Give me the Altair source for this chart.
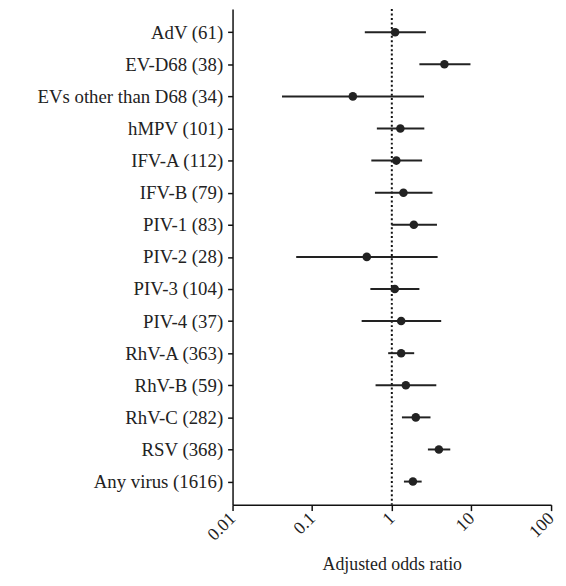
import altair as alt
import pandas as pd

labels = ["AdV (61)", "EV-D68 (38)", "EVs other than D68 (34)", "hMPV (101)",
          "IFV-A (112)", "IFV-B (79)", "PIV-1 (83)", "PIV-2 (28)", "PIV-3 (104)",
          "PIV-4 (37)", "RhV-A (363)", "RhV-B (59)", "RhV-C (282)", "RSV (368)",
          "Any virus (1616)"]
aor = [1.10, 4.58, 0.324, 1.28, 1.14, 1.40, 1.89, 0.485, 1.09, 1.31, 1.31, 1.50, 2.00, 3.90, 1.84]
lower = [0.458, 2.22, 0.0418, 0.649, 0.553, 0.614, 0.99, 0.063, 0.538, 0.418, 0.90, 0.625, 1.34, 2.84, 1.42]
upper = [2.68, 9.72, 2.54, 2.56, 2.40, 3.24, 3.69, 3.76, 2.22, 4.17, 1.91, 3.62, 3.06, 5.42, 2.37]
ticks = [0.01, 0.1, 1, 10, 100]

df = pd.DataFrame({"label": labels, "aor": aor, "lower": lower, "upper": upper})
ref = pd.DataFrame({"x": [1.0]})

FONT = "Liberation Serif"
FS = 19
xscale = alt.Scale(type="log", domain=[0.01, 100], nice=False)
yenc = alt.Y("label:N", sort=labels, scale=alt.Scale(type="point", padding=0.72),
             axis=alt.Axis(title=None, labelFontSize=FS, labelPadding=5, tickSize=5,
                           labelColor="#222", labelFont=FONT, labelLimit=400))

base = alt.Chart(df)

rule_ref = alt.Chart(ref).mark_rule(strokeDash=[2, 2.5], strokeWidth=2, color="#111").encode(
    x=alt.X("x:Q", scale=xscale)
)

bars = base.mark_rule(strokeWidth=2, color="#222").encode(
    x=alt.X("lower:Q", scale=xscale,
            axis=alt.Axis(values=ticks, format="~g", title="Adjusted odds ratio",
                          labelAngle=-45, labelAlign="right", labelBaseline="middle",
                          labelFontSize=18, labelFont=FONT, labelColor="#222",
                          tickSize=6, labelPadding=5, titlePadding=12,
                          titleFontSize=18, titleFont=FONT, titleFontWeight="normal",
                          titleColor="#222", grid=False, labelFlush=False)),
    x2="upper:Q",
    y=yenc,
)

pts = base.mark_circle(size=75, opacity=1, color="#222").encode(
    x=alt.X("aor:Q", scale=xscale),
    y=yenc,
)

chart = alt.layer(rule_ref, bars, pts).properties(
    width=556, height=569,
    autosize=alt.AutoSizeParams(type="fit", contains="padding"),
    padding={"left": 29, "top": -3, "right": 0, "bottom": 0}
).configure_view(stroke=None).configure_axis(
    domainColor="#111", domainWidth=1.5, tickColor="#111", tickWidth=1.5, grid=False
)

chart.save("out.html", embed_options={"renderer": "svg", "actions": False})
